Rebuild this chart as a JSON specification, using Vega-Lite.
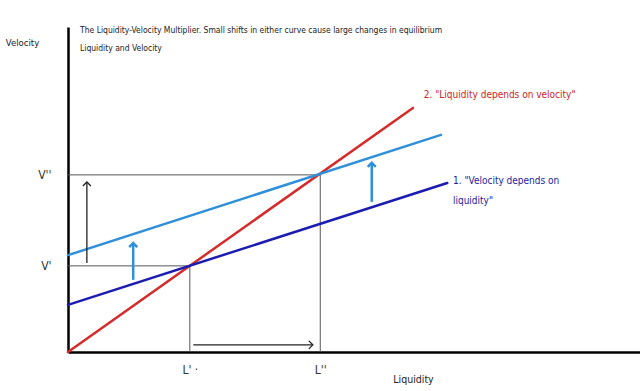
{
  "$schema": "https://vega.github.io/schema/vega-lite/v6.json",
  "width": 572,
  "height": 325,
  "autosize": "none",
  "padding": {"left": 68, "top": 27, "right": 0, "bottom": 39},
  "background": "white",
  "config": {
    "view": {"stroke": null},
    "font": "DejaVu Sans Condensed, Liberation Sans Narrow, Roboto, sans-serif"
  },
  "resolve": {"scale": {"color": "independent", "stroke": "independent", "strokeWidth": "independent"}},
  "title": {
    "text": ["The Liquidity-Velocity Multiplier. Small shifts in either curve cause large changes in equilibrium", "Liquidity and Velocity"],
    "anchor": "start",
    "frame": "group",
    "dx": 12,
    "offset": -25,
    "baseline": "top",
    "font": "DejaVu Sans Condensed, Liberation Sans Narrow, Roboto, sans-serif",
    "fontSize": 8.5,
    "fontWeight": "normal",
    "color": "#222",
    "lineHeight": 18
  },
  "datasets": {
    "curves": [
      {"curve": "2. Liquidity depends on velocity", "liquidity": 0, "velocity": 0},
      {"curve": "2. Liquidity depends on velocity", "liquidity": 60.3, "velocity": 75.1},
      {"curve": "1b. Shifted velocity curve", "liquidity": 0, "velocity": 29.8},
      {"curve": "1b. Shifted velocity curve", "liquidity": 65.2, "velocity": 66.8},
      {"curve": "1. Velocity depends on liquidity", "liquidity": 0, "velocity": 14.5},
      {"curve": "1. Velocity depends on liquidity", "liquidity": 66.3, "velocity": 52.0}
    ],
    "guides": [
      {"x": 0, "y": 26.5, "x2": 21.3, "y2": 26.5},
      {"x": 21.3, "y": 0, "x2": 21.3, "y2": 26.5},
      {"x": 0, "y": 54.5, "x2": 44.1, "y2": 54.5},
      {"x": 44.1, "y": 0, "x2": 44.1, "y2": 54.5}
    ],
    "arrows": [
      {"kind": "black", "x": 3.3, "y": 27.4, "x2": 3.3, "y2": 52.3, "dir": 0},
      {"kind": "black", "x": 21.9, "y": 2.2, "x2": 42.8, "y2": 2.2, "dir": 90},
      {"kind": "blue", "x": 11.4, "y": 22.2, "x2": 11.4, "y2": 33.5, "dir": 0},
      {"kind": "blue", "x": 53.1, "y": 46.2, "x2": 53.1, "y2": 58.2, "dir": 0}
    ],
    "labels": [
      {"kind": "red", "x": 62.2, "y": 79.1, "text": "2. \"Liquidity depends on velocity\""},
      {"kind": "blue", "x": 67.3, "y": 52.6, "text": "1. \"Velocity depends on"},
      {"kind": "blue", "x": 67.3, "y": 46.5, "text": "liquidity\""}
    ]
  },
  "layer": [
    {
      "data": {"name": "guides"},
      "mark": {"type": "rule", "color": "#555", "strokeWidth": 1},
      "encoding": {
        "x": {"field": "x", "type": "quantitative", "scale": {"domain": [0, 100]},
          "axis": {
            "values": [21.3, 44.1],
            "labelExpr": "datum.value < 30 ? \"L'  ·\" : \"L''\"",
            "domainColor": "#000", "domainWidth": 2.5,
            "ticks": false, "grid": false,
            "labelPadding": 12, "labelFontSize": 12, "labelColor": "#333",
            "title": "Liquidity",
            "titleFontSize": 10.5, "titleFontWeight": "normal", "titleColor": "#222",
            "titleX": 345, "titleY": 27, "titleBaseline": "middle", "titleAlign": "center"
          }},
        "y": {"field": "y", "type": "quantitative", "scale": {"domain": [0, 100]},
          "axis": {
            "values": [26.5, 54.5],
            "labelExpr": "datum.value < 30 ? \"V'\" : \"V''\"",
            "domainColor": "#000", "domainWidth": 2.5,
            "ticks": false, "grid": false,
            "labelPadding": 17, "labelFontSize": 12, "labelColor": "#333",
            "title": "Velocity",
            "titleFontSize": 9.5, "titleFontWeight": "normal", "titleColor": "#222",
            "titleAngle": 0, "titleX": -46, "titleY": 15, "titleBaseline": "middle", "titleAlign": "center"
          }},
        "x2": {"field": "x2"},
        "y2": {"field": "y2"}
      }
    },
    {
      "data": {"name": "curves"},
      "mark": {"type": "line", "strokeWidth": 2.5, "strokeCap": "round"},
      "encoding": {
        "x": {"field": "liquidity", "type": "quantitative"},
        "y": {"field": "velocity", "type": "quantitative"},
        "detail": {"field": "curve"},
        "color": {"field": "curve", "type": "nominal", "legend": null,
          "scale": {"domain": ["2. Liquidity depends on velocity", "1b. Shifted velocity curve", "1. Velocity depends on liquidity"],
                    "range": ["#d42b2b", "#2f8fd8", "#1c1cb0"]}}
      }
    },
    {
      "data": {"name": "arrows"},
      "mark": {"type": "rule"},
      "encoding": {
        "x": {"field": "x", "type": "quantitative"},
        "y": {"field": "y", "type": "quantitative"},
        "x2": {"field": "x2"},
        "y2": {"field": "y2"},
        "stroke": {"field": "kind", "type": "nominal", "legend": null,
          "scale": {"domain": ["black", "blue"], "range": ["#222", "#2f8fd8"]}},
        "strokeWidth": {"field": "kind", "type": "nominal", "legend": null,
          "scale": {"domain": ["black", "blue"], "range": [1.3, 2.5]}}
      }
    },
    {
      "data": {"name": "arrows"},
      "mark": {"type": "point", "shape": "M-1,1L0,0L1,1", "filled": false, "size": 64, "opacity": 1},
      "encoding": {
        "x": {"field": "x2", "type": "quantitative"},
        "y": {"field": "y2", "type": "quantitative"},
        "angle": {"field": "dir", "type": "quantitative", "scale": null},
        "stroke": {"field": "kind", "type": "nominal", "legend": null,
          "scale": {"domain": ["black", "blue"], "range": ["#222", "#2f8fd8"]}},
        "strokeWidth": {"field": "kind", "type": "nominal", "legend": null,
          "scale": {"domain": ["black", "blue"], "range": [1.3, 2.5]}}
      }
    },
    {
      "data": {"name": "labels"},
      "mark": {"type": "text", "align": "left", "baseline": "middle", "fontSize": 10},
      "encoding": {
        "x": {"field": "x", "type": "quantitative"},
        "y": {"field": "y", "type": "quantitative"},
        "text": {"field": "text"},
        "color": {"field": "kind", "type": "nominal", "legend": null,
          "scale": {"domain": ["red", "blue"], "range": ["#cc2525", "#1c1ca0"]}}
      }
    }
  ]
}
